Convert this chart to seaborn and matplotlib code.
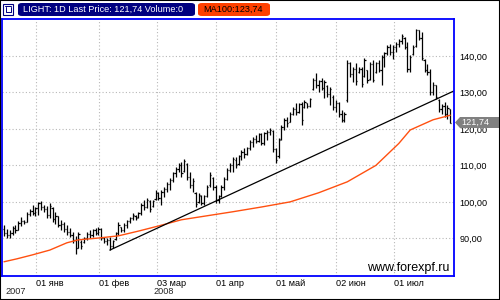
import numpy as np
import pandas as pd
import matplotlib
matplotlib.use("Agg")
import matplotlib.pyplot as plt
import seaborn as sns
from matplotlib.patches import Rectangle, FancyBboxPatch, Polygon

# ---- data ----
highs = [93.7, 92.6, 92.3, 93.4, 93.7, 94.8, 95.9, 95.1, 97.3, 98.1, 99.2, 98.6,
         100.1, 100.3, 99.2, 98.9, 99.7, 98.6, 97.3, 96.2, 95.1, 94.5, 93.7, 92.9,
         91.8, 90.7, 91.8, 89.6, 90.4, 91.8, 92.3, 92.6, 92.9, 93.2, 92.9, 90.4,
         90.1, 90.4, 89.6, 91.8, 94.5, 93.2, 94.2, 95.1, 95.9, 97.0, 96.4, 97.3,
         99.7, 100.5, 101.1, 100.5, 100.5, 103.3, 102.7, 103.3, 104.1, 105.5, 106.6, 108.2,
         109.6, 110.7, 111.0, 111.8, 110.7, 108.2, 106.6, 102.7, 102.5, 101.9, 101.9, 104.7,
         108.2, 106.8, 104.7, 101.9, 104.7, 106.8, 109.3, 110.7, 112.3, 112.3, 112.9, 114.2,
         114.8, 115.1, 117.0, 117.8, 118.4, 118.9, 118.9, 119.2, 119.7, 120.3, 119.7, 114.8,
         117.5, 121.1, 123.0, 123.3, 124.7, 126.0, 127.1, 127.1, 127.4, 127.9, 127.1, 128.5,
         134.0, 135.3, 133.4, 134.0, 133.4, 132.1, 131.5, 129.3, 127.9, 127.4, 125.2, 124.7,
         138.9, 138.4, 137.0, 138.1, 137.0, 137.0, 139.5, 136.2, 138.4, 138.9, 138.4, 138.9,
         140.3, 141.1, 143.0, 143.3, 143.0, 143.8, 144.7, 146.0, 145.2, 143.8, 140.3, 143.0,
         147.4, 147.1, 146.6, 139.2, 137.8, 136.4, 132.9, 132.1, 128.2, 126.8, 127.4, 126.6,
         125.5]
lows = [90.7, 90.1, 90.1, 91.0, 91.5, 92.3, 93.4, 94.0, 94.5, 96.2, 96.4, 96.2,
        96.4, 97.8, 97.3, 95.6, 95.6, 94.5, 94.0, 93.2, 92.3, 91.8, 91.0, 90.4,
        88.8, 85.7, 87.4, 87.1, 88.8, 89.6, 90.1, 90.4, 91.0, 91.0, 89.6, 88.8,
        88.2, 86.8, 87.5, 89.6, 91.0, 91.8, 91.8, 92.9, 94.2, 95.1, 95.1, 95.6,
        96.4, 97.8, 98.4, 97.3, 98.6, 100.5, 100.5, 99.2, 101.4, 102.7, 103.3, 105.5,
        106.8, 108.2, 106.8, 108.2, 106.0, 103.8, 102.7, 98.6, 99.7, 99.2, 99.2, 101.4,
        104.1, 103.3, 99.7, 99.7, 101.4, 103.3, 106.0, 108.2, 108.2, 109.3, 110.1, 111.5,
        112.1, 112.9, 114.2, 115.1, 116.2, 116.4, 115.6, 115.6, 117.0, 118.4, 113.7, 110.7,
        112.1, 117.0, 119.7, 120.5, 121.9, 123.8, 123.8, 124.4, 121.1, 125.8, 125.8, 126.0,
        130.7, 131.2, 130.1, 130.7, 128.5, 128.8, 126.6, 125.2, 124.7, 123.3, 121.9, 121.9,
        127.4, 134.2, 132.9, 132.1, 135.3, 131.5, 134.2, 132.6, 133.4, 132.9, 135.3, 135.6,
        132.1, 137.0, 140.3, 140.3, 139.2, 141.1, 142.5, 143.3, 141.9, 135.6, 135.6, 140.3,
        142.5, 144.4, 138.9, 135.6, 134.8, 129.3, 129.3, 128.2, 124.7, 124.1, 123.3, 122.7,
        121.5]
opens = [92.5, 91.5, 90.8, 91.6, 92.8, 92.4, 94.2, 94.8, 94.6, 96.8, 97.5, 97.0,
         98.2, 99.6, 98.5, 98.0, 96.5, 98.4, 95.2, 96.0, 93.8, 94.0, 92.5, 91.8,
         91.0, 89.5, 87.5, 89.0, 89.0, 90.0, 91.2, 90.8, 92.2, 91.5, 92.6, 90.0,
         89.2, 89.6, 87.8, 89.8, 91.5, 93.0, 92.2, 93.8, 94.8, 95.5, 96.0, 95.8,
         97.0, 99.2, 98.5, 100.2, 98.8, 100.8, 102.3, 101.0, 102.8, 103.6, 105.0, 106.0,
         107.8, 109.0, 110.2, 108.5, 110.5, 106.8, 104.5, 102.5, 100.0, 101.5, 99.8, 101.5,
         104.5, 106.5, 104.0, 100.5, 101.5, 104.2, 106.2, 108.8, 110.0, 111.5, 110.5, 112.5,
         113.8, 113.0, 114.8, 116.5, 117.2, 116.8, 118.5, 116.2, 118.8, 119.2, 119.5, 114.5,
         112.5, 117.2, 120.5, 122.5, 122.0, 124.2, 125.5, 124.5, 126.8, 126.0, 127.0, 126.2,
         131.0, 133.5, 132.0, 133.0, 131.2, 131.8, 129.5, 128.8, 126.0, 127.0, 124.0, 122.5,
         128.0, 138.0, 135.0, 136.5, 135.5, 136.5, 134.5, 136.0, 133.8, 137.8, 135.5, 138.0,
         136.0, 139.8, 140.8, 142.5, 141.0, 142.5, 143.2, 144.2, 145.0, 142.5, 136.5, 140.5,
         142.8, 147.0, 145.0, 139.0, 136.0, 135.5, 130.0, 132.0, 128.0, 125.5, 126.2, 124.0,
         125.5]
closes = [91.5, 90.8, 91.6, 92.8, 92.4, 94.2, 94.8, 94.6, 96.8, 97.5, 97.0, 98.2,
          99.6, 98.5, 98.0, 96.5, 99.0, 95.2, 96.2, 93.8, 94.0, 92.5, 91.8, 91.0,
          89.5, 87.5, 91.2, 88.0, 90.0, 91.2, 90.8, 92.2, 91.5, 92.6, 90.0, 89.2,
          89.6, 87.8, 89.2, 91.5, 93.8, 92.2, 93.8, 94.8, 95.5, 96.5, 95.5, 97.0,
          99.2, 98.5, 100.6, 98.0, 100.2, 102.5, 101.0, 102.8, 103.6, 105.0, 106.0, 107.8,
          109.0, 110.2, 108.0, 111.2, 106.8, 104.5, 105.8, 99.5, 101.8, 99.8, 101.5, 104.0,
          107.5, 104.0, 100.5, 101.5, 104.2, 106.2, 108.8, 110.0, 111.8, 110.0, 112.5, 113.8,
          113.0, 114.8, 116.5, 117.2, 116.8, 118.5, 116.2, 118.8, 119.2, 119.8, 114.5, 111.5,
          117.0, 120.5, 122.5, 121.5, 124.2, 125.5, 124.5, 126.8, 122.5, 127.5, 126.2, 128.2,
          133.5, 132.0, 133.0, 131.2, 132.8, 129.5, 130.8, 126.0, 127.2, 124.0, 122.5, 124.0,
          138.0, 135.0, 136.5, 133.0, 136.5, 132.2, 138.8, 133.5, 137.8, 133.5, 138.0, 136.0,
          139.8, 140.8, 142.5, 141.0, 142.5, 143.2, 144.2, 145.5, 142.5, 136.5, 139.8, 142.5,
          147.0, 145.0, 139.5, 136.0, 135.5, 130.0, 132.0, 128.8, 125.5, 126.2, 124.0, 125.8,
          121.74]

ma_idx = [0, 4.5, 10, 16, 22, 26, 33, 40, 47, 54, 62, 71, 80, 90, 100, 110, 120, 130, 138, 142, 150, 156]
ma_val = [83.6, 84.4, 85.5, 86.8, 88.8, 89.6, 90.1, 90.7, 92.0, 93.4, 95.1, 96.2,
          97.3, 98.6, 100.0, 102.5, 105.5, 110.0, 116.0, 119.7, 122.5, 123.74]

trend_idx = [37, 157.3]
trend_val = [86.8, 130.4]

month_pos = [11.2, 33.3, 53.5, 74.1, 95.1, 116.1, 136.4]
month_labels = ["01 янв", "01 фев", "03 мар", "01 апр", "01 май", "02 июн", "01 июл"]
year_labels = ["2007", "2008"]
price_ticks = [90, 100, 110, 120, 130, 140]
last_price = "121,74"
header_main = "LIGHT: 1D Last Price: 121,74 Volume:0"
header_ma = "MA100:123,74"
watermark = "www.forexpf.ru"

# ---- drawing ----
sns.set_style("white")
plt.rcParams['font.family'] = ['Liberation Sans', 'DejaVu Sans']

W, H = 500, 300
fig = plt.figure(figsize=(5, 3), dpi=100)
fig.patch.set_facecolor('white')

def fx(x):
    return x / W

def fy(y):
    return 1 - y / H

ax = fig.add_axes([fx(2), fy(276), (454 - 2) / W, (276 - 19) / H])

df = pd.DataFrame({"i": np.arange(len(highs)), "h": highs, "l": lows, "o": opens, "c": closes})
ax.vlines(df["i"], df["l"], df["h"], color="black", lw=0.9)
ax.hlines(df["o"], df["i"] - 0.42, df["i"], color="black", lw=0.9)
ax.hlines(df["c"], df["i"], df["i"] + 0.42, color="black", lw=0.9)

sns.lineplot(x=ma_idx, y=ma_val, ax=ax, color="#ff5010", lw=1.0)
sns.lineplot(x=trend_idx, y=trend_val, ax=ax, color="black", lw=0.9)

ax.set_xlim(-0.7, 157.3)
ax.set_ylim(79.7, 150.1)

ax.yaxis.tick_right()
ax.set_yticks(price_ticks)
ax.set_yticklabels([f"{v:.2f}".replace(".", ",") for v in price_ticks])
ax.set_xticks(month_pos)
ax.set_xticklabels(month_labels, ha="left")
ax.tick_params(axis="y", length=0, pad=4, labelsize=6.6, colors="black")
ax.tick_params(axis="x", length=0, pad=2.5, labelsize=6.6, colors="black")
ax.set_xlabel("")
ax.set_ylabel("")
ax.grid(True, color="#b8b8b8", ls=(0, (1, 2)), lw=0.8)
for s in ax.spines.values():
    s.set_color("#0000ff")
    s.set_linewidth(1.3)
    s.set_visible(True)

# year labels
fig.text(fx(5), fy(292), year_labels[0], fontsize=6.6, va="center", ha="left")
fig.text(fx(153), fy(292), year_labels[1], fontsize=6.6, va="center", ha="left")

# watermark
ax.text(fx(449), fy(268), watermark, transform=fig.transFigure, fontsize=9,
        ha="right", va="center", color="black")

# last price marker (covers the top of the 120,00 label, as in the original)
poly = Polygon([(fx(455), fy(122.5)), (fx(460), fy(117)), (fx(499), fy(117)),
                (fx(499), fy(128)), (fx(460), fy(128))], closed=True,
               transform=fig.transFigure, facecolor="#808080", edgecolor="none")
fig.add_artist(poly)
fig.text(fx(461), fy(122.5), last_price, fontsize=6.6, color="white", va="center", ha="left")

# header
fig.add_artist(FancyBboxPatch((fx(18), fy(16)), fx(195 - 18), (16 - 3) / H,
                              boxstyle="round,pad=0,rounding_size=0.008",
                              transform=fig.transFigure, facecolor="#000080", edgecolor="none"))
fig.text(fx(23), fy(9.5), header_main, fontsize=6.6, color="white", va="center", ha="left")
fig.add_artist(FancyBboxPatch((fx(198), fy(16)), fx(270 - 198), (16 - 3) / H,
                              boxstyle="round,pad=0,rounding_size=0.008",
                              transform=fig.transFigure, facecolor="#ff4000", edgecolor="none"))
fig.text(fx(203), fy(9.5), header_ma, fontsize=6.6, color="black", va="center", ha="left")
# small icon
fig.add_artist(Rectangle((fx(3), fy(15)), fx(10), 11 / H, transform=fig.transFigure,
                         facecolor="white", edgecolor="#000080", lw=0.8))
fig.add_artist(plt.Line2D([fx(5.5), fx(5.5), fx(10.5), fx(10.5)], [fy(7), fy(12), fy(12), fy(7)],
                          transform=fig.transFigure, color="#000080", lw=0.7))
fig.add_artist(plt.Line2D([fx(5), fx(11)], [fy(5.5), fy(5.5)],
                          transform=fig.transFigure, color="#000080", lw=0.7))

# outer frame
fig.add_artist(Rectangle((0, 0), 1, 1, transform=fig.transFigure, fill=False,
                         edgecolor="black", lw=1.5))

fig.savefig("out.png", dpi=100)
